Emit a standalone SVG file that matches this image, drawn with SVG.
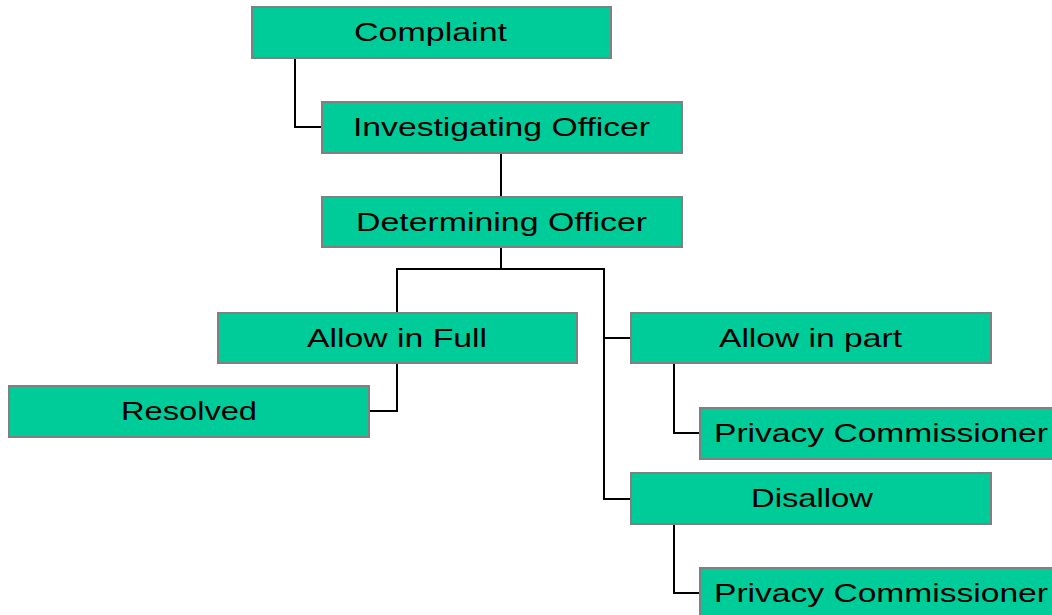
<svg xmlns="http://www.w3.org/2000/svg" width="1052" height="615" viewBox="0 0 1052 615">
  <style>
    .box { fill: #00CC99; stroke: #808080; stroke-width: 2; }
    .lbl { font-family: "Liberation Sans", Arial, sans-serif; font-size: 25px; fill: #000000; }
    .wire { fill: none; stroke: #000000; stroke-width: 2; }
  </style>
  <rect width="1052" height="615" fill="#ffffff"/>

  <!-- connectors -->
  <g id="connectors">
    <polyline class="wire" points="295,58 295,127 322,127"/>
    <line class="wire" x1="501" y1="153" x2="501" y2="197"/>
    <line class="wire" x1="501" y1="247" x2="501" y2="269"/>
    <polyline class="wire" points="397,313 397,269 604,269 604,499 631,499"/>
    <line class="wire" x1="604" y1="338" x2="631" y2="338"/>
    <polyline class="wire" points="397,363 397,411 369,411"/>
    <polyline class="wire" points="674,363 674,433 700,433"/>
    <polyline class="wire" points="674,524 674,593 700,593"/>
  </g>

  <g id="complaint">
    <rect class="box" x="252" y="7" width="359" height="51"/>
    <text class="lbl" x="354" y="41" textLength="153" lengthAdjust="spacingAndGlyphs">Complaint</text>
  </g>
  <g id="investigating-officer">
    <rect class="box" x="322" y="102" width="360" height="51"/>
    <text class="lbl" x="353" y="136" textLength="297" lengthAdjust="spacingAndGlyphs">Investigating Officer</text>
  </g>
  <g id="determining-officer">
    <rect class="box" x="322" y="197" width="360" height="50"/>
    <text class="lbl" x="356" y="231" textLength="291" lengthAdjust="spacingAndGlyphs">Determining Officer</text>
  </g>
  <g id="allow-in-full">
    <rect class="box" x="218" y="313" width="359" height="50"/>
    <text class="lbl" x="307" y="347" textLength="180" lengthAdjust="spacingAndGlyphs">Allow in Full</text>
  </g>
  <g id="resolved">
    <rect class="box" x="9" y="386" width="360" height="51"/>
    <text class="lbl" x="121" y="420" textLength="136" lengthAdjust="spacingAndGlyphs">Resolved</text>
  </g>
  <g id="allow-in-part">
    <rect class="box" x="631" y="313" width="360" height="50"/>
    <text class="lbl" x="719" y="347" textLength="183" lengthAdjust="spacingAndGlyphs">Allow in part</text>
  </g>
  <g id="privacy-commissioner-1">
    <rect class="box" x="700" y="408" width="360" height="51"/>
    <text class="lbl" x="714" y="442" textLength="334" lengthAdjust="spacingAndGlyphs">Privacy Commissioner</text>
  </g>
  <g id="disallow">
    <rect class="box" x="631" y="473" width="360" height="51"/>
    <text class="lbl" x="751" y="507" textLength="122" lengthAdjust="spacingAndGlyphs">Disallow</text>
  </g>
  <g id="privacy-commissioner-2">
    <rect class="box" x="700" y="568" width="360" height="51"/>
    <text class="lbl" x="714" y="602" textLength="334" lengthAdjust="spacingAndGlyphs">Privacy Commissioner</text>
  </g>
</svg>
